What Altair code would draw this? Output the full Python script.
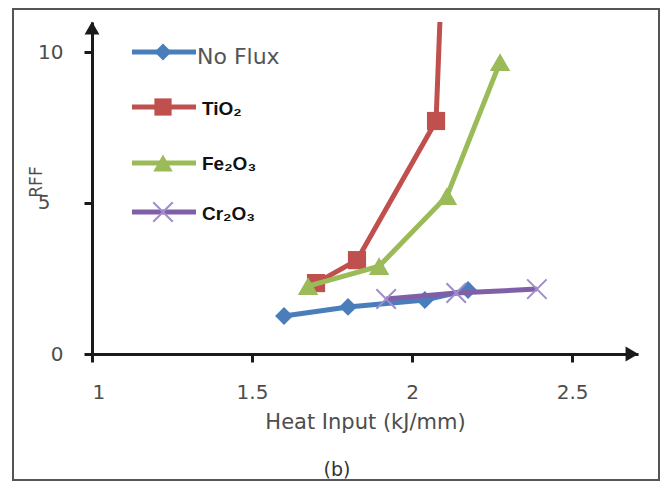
import altair as alt
import pandas as pd

# ---- data ----
series = ["No Flux", "TiO₂", "Fe₂O₃", "Cr₂O₃"]
colors = ["#4a7ebb", "#c0504d", "#9bbb59", "#7f60a8"]

noflux_x = [1.60, 1.80, 2.04, 2.175]
noflux_y = [1.26, 1.56, 1.79, 2.12]
tio2_x = [1.70, 1.828, 2.075, 2.098]
tio2_y = [2.35, 3.11, 7.72, 14.0]
fe2o3_x = [1.675, 1.897, 2.109, 2.275]
fe2o3_y = [2.25, 2.91, 5.23, 9.67]
cr2o3_x = [1.919, 2.138, 2.39]
cr2o3_y = [1.82, 2.02, 2.15]

x_ticks = [1, 1.5, 2, 2.5]
y_ticks = [0, 5, 10]
x_domain = [1, 2.706]
y_domain = [0, 11]

x_title = "Heat Input (kJ/mm)"
y_title = "RFF"
caption = "(b)"

# ---- styling ----
AX = "#1a1a1a"
TXT = "#4d4d4d"
FONT = "DejaVu Sans"
XPATH = "M-1,-1L1,1M1,-1L-1,1"

X = alt.X("x:Q", scale=alt.Scale(domain=x_domain, nice=False, zero=False),
          axis=alt.Axis(values=x_ticks, format="~g", title=x_title, grid=False,
                        domainColor=AX, domainWidth=3, tickColor=AX, tickWidth=3,
                        tickSize=8, labelFont=FONT, labelFontSize=20, labelColor=TXT,
                        labelPadding=20, titleFont=FONT, titleFontSize=21,
                        titleColor=TXT, titleFontWeight="normal", titlePadding=9))
Y = alt.Y("y:Q", scale=alt.Scale(domain=y_domain, nice=False, zero=True),
          axis=alt.Axis(values=y_ticks, title=None, grid=False,
                        labelExpr="datum.value == 5 ? '' : datum.label",
                        domainColor=AX, domainWidth=3, tickColor=AX, tickWidth=3,
                        tickSize=8, labelFont=FONT, labelFontSize=20, labelColor=TXT,
                        labelPadding=21))

layers = []

# frame around the figure
frame = alt.Chart(pd.DataFrame({"k": [0]})).mark_rect(
    fillOpacity=0, stroke="#555555", strokeWidth=2
).encode(x=alt.value(-79), x2=alt.value(567), y=alt.value(-13), y2=alt.value(458))
layers.append(frame)

specs = [
    (series[0], noflux_x, noflux_y, colors[0], "diamond", 320, True, colors[0]),
    (series[1], tio2_x, tio2_y, colors[1], "square", 330, True, colors[1]),
    (series[2], fe2o3_x, fe2o3_y, colors[2], "triangle-up", 420, True, colors[2]),
    (series[3], cr2o3_x, cr2o3_y, colors[3], XPATH, 380, False, "#a08ccb"),
]

for name, xs, ys, col, shape, size, filled, mcol in specs:
    df = pd.DataFrame({"x": xs, "y": ys, "series": name})
    base = alt.Chart(df).encode(x=X, y=Y)
    layers.append(base.mark_line(color=col, strokeWidth=5, clip=True))
    if filled:
        pts = base.mark_point(shape=shape, size=size, filled=True, color=mcol,
                              opacity=1, clip=True)
    else:
        pts = base.mark_point(shape=shape, size=size, filled=False, color=mcol,
                              opacity=1, strokeWidth=2, clip=True)
    layers.append(pts)

# axis arrow heads at the ends of the axes
arrow_x = alt.Chart(pd.DataFrame({"x": [x_domain[1]], "y": [y_domain[0]]})).mark_point(
    shape="triangle-right", size=220, filled=True, color=AX, opacity=1, xOffset=-6
).encode(x=X, y=Y)
arrow_y = alt.Chart(pd.DataFrame({"x": [x_domain[0]], "y": [y_domain[1]]})).mark_point(
    shape="triangle-up", size=220, filled=True, color=AX, opacity=1, yOffset=6
).encode(x=X, y=Y)
layers += [arrow_x, arrow_y]

# the "5" tick label (drawn further left, as in the reference) and the "RFF" title
five = alt.Chart(pd.DataFrame({"x": [x_domain[0]], "y": [5]})).mark_text(
    font=FONT, fontSize=20, color=TXT, align="center", baseline="middle"
).encode(x=alt.value(-48), y=Y, text=alt.Text("y:Q"))
ytitle = alt.Chart(pd.DataFrame({"t": [y_title]})).mark_text(
    angle=270, font=FONT, fontSize=17, color=TXT, align="center", baseline="middle"
).encode(x=alt.value(-55), y=alt.value(160), text="t:N")
layers += [five, ytitle]

# manual legend (line with marker in the middle, then the label)
leg_line_y = [30, 85, 141, 190]
leg_text_y = [42, 93, 148, 198]
leg_text_x = [105, 110, 110, 110]
for i, (name, xs, ys, col, shape, size, filled, mcol) in enumerate(specs):
    d = pd.DataFrame({"label": [name]})
    layers.append(alt.Chart(d).mark_rule(color=col, strokeWidth=5).encode(
        x=alt.value(40), x2=alt.value(104), y=alt.value(leg_line_y[i])))
    if filled:
        m = alt.Chart(d).mark_point(shape=shape, size=size * 0.9, filled=True,
                                    color=mcol, opacity=1)
    else:
        m = alt.Chart(d).mark_point(shape=shape, size=size, filled=False,
                                    color=mcol, opacity=1, strokeWidth=2)
    layers.append(m.encode(x=alt.value(71), y=alt.value(leg_line_y[i])))
    if i == 0:
        t = alt.Chart(d).mark_text(align="left", baseline="alphabetic", font=FONT,
                                   fontSize=22, color="#555555")
    else:
        t = alt.Chart(d).mark_text(align="left", baseline="alphabetic",
                                   font="Liberation Sans", fontSize=19,
                                   fontWeight="bold", color="#111111")
    layers.append(t.encode(x=alt.value(leg_text_x[i]), y=alt.value(leg_text_y[i]),
                           text="label:N"))

# caption
cap = alt.Chart(pd.DataFrame({"c": [caption]})).mark_text(
    font=FONT, fontSize=19, color="#333333", align="center", baseline="middle"
).encode(x=alt.value(245), y=alt.value(448), text="c:N")
layers.append(cap)

chart = alt.layer(*layers).properties(
    width=546, height=332,
    padding={"left": 84, "top": 14, "right": 22, "bottom": 128},
    autosize="none", background="white",
).configure_view(strokeWidth=0)

chart.save("out.html", embed_options={"renderer": "svg", "actions": False})
